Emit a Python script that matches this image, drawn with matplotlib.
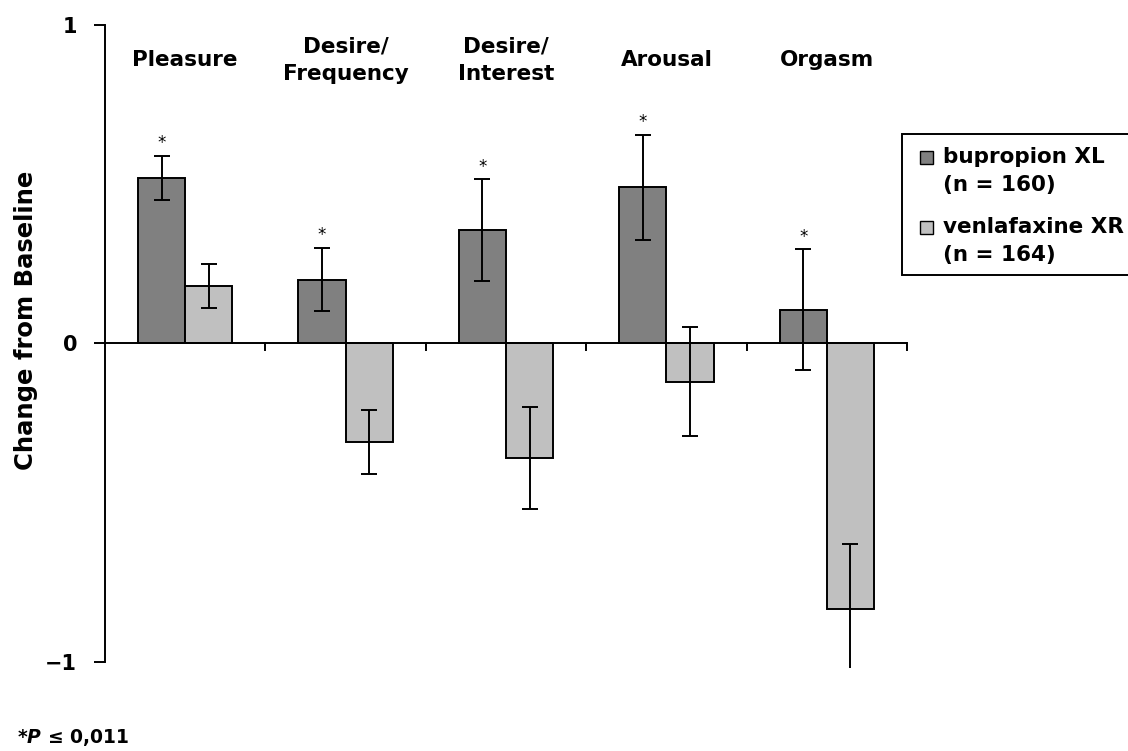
import matplotlib
matplotlib.use("Agg")
import matplotlib.pyplot as plt
from matplotlib.patches import Rectangle
import numpy as np

plt.rcParams['font.family'] = ['DejaVu Sans']

categories = ["Pleasure", "Desire/\nFrequency", "Desire/\nInterest", "Arousal", "Orgasm"]
bupropion = [0.52, 0.20, 0.355, 0.49, 0.105]
bupropion_err = [0.07, 0.10, 0.16, 0.165, 0.19]
venlafaxine = [0.18, -0.31, -0.36, -0.12, -0.835]
venlafaxine_err = [0.07, 0.10, 0.16, 0.17, 0.205]
significant = [True, True, True, True, True]
series_names = ["bupropion XL", "venlafaxine XR"]
series_n = ["(n = 160)", "(n = 164)"]
yticks = [-1, 0, 1]
ytick_labels = ["\u22121", "0", "1"]

dark = "#808080"
light = "#c0c0c0"

fig = plt.figure(figsize=(11.28, 7.51), dpi=100)
ax = fig.add_axes([105/1128, 1-668/751, (907-105)/1128, 643/751])

x = np.arange(len(categories))
w = 0.294
b1 = ax.bar(x + 0.5 - w/2, bupropion, w, color=dark, edgecolor="black", linewidth=1.4, zorder=2)
b2 = ax.bar(x + 0.5 + w/2, venlafaxine, w, color=light, edgecolor="black", linewidth=1.4, zorder=2)
ax.errorbar(x + 0.5 - w/2, bupropion, yerr=bupropion_err, fmt="none", ecolor="black",
            elinewidth=1.4, capsize=6, capthick=1.4, zorder=3)
ax.errorbar(x + 0.5 + w/2, venlafaxine, yerr=venlafaxine_err, fmt="none", ecolor="black",
            elinewidth=1.4, capsize=6, capthick=1.4, zorder=3)

for i, s in enumerate(significant):
    if s:
        ax.text(x[i] + 0.5 - w/2, bupropion[i] + bupropion_err[i] + 0.012, "*",
                ha="center", va="bottom", fontsize=12)

for i, c in enumerate(categories):
    ax.text(x[i] + 0.5, 0.89, c, ha="center", va="center", fontsize=15.5,
            fontweight="bold", linespacing=1.5)

ax.set_xlim(0, len(categories))
ax.set_ylim(-1.02, 1)
ax.set_yticks(yticks)
ax.set_yticklabels(ytick_labels, fontsize=15, fontweight="bold")
ax.tick_params(axis="y", direction="out", length=8, width=1.4, pad=12)
ax.spines["left"].set_bounds(-1, 1)
ax.spines["left"].set_linewidth(1.4)
ax.spines["top"].set_visible(False)
ax.spines["right"].set_visible(False)
ax.spines["bottom"].set_visible(False)
ax.set_xticks([])
ax.axhline(0, color="black", linewidth=1.4, zorder=4, xmin=0, xmax=1)
for b in range(1, len(categories) + 1):
    ax.plot([b, b], [0, -0.02], color="black", linewidth=1.4, zorder=4, clip_on=False)

fig.text(26/1128, 1-320/751, "Change from Baseline", rotation=90, ha="center", va="center",
         fontsize=17.5, fontweight="bold")

# legend (drawn manually so the swatch aligns with the first line of each entry)
W, H = 1128, 751
fig.patches.append(Rectangle((902/W, 1-275/H), 240/W, 141/H, transform=fig.transFigure,
                             facecolor="white", edgecolor="black", linewidth=1.4))
entry_y = [157, 227]
for name, n, col, y in zip(series_names, series_n, [dark, light], entry_y):
    fig.patches.append(Rectangle((920/W, 1-(y+6.5)/H), 13/W, 13/H, transform=fig.transFigure,
                                 facecolor=col, edgecolor="black", linewidth=1.0))
    fig.text(943/W, 1-y/H, name, ha="left", va="center", fontsize=15.5, fontweight="bold")
    fig.text(943/W, 1-(y+28)/H, n, ha="left", va="center", fontsize=15.5, fontweight="bold")

fig.text(17/1128, 1-738/751, "*$\\mathbfit{P}$ \u2264 0,011", ha="left", va="center",
         fontsize=13.5, fontweight="bold")

fig.savefig("out.png", dpi=100)
